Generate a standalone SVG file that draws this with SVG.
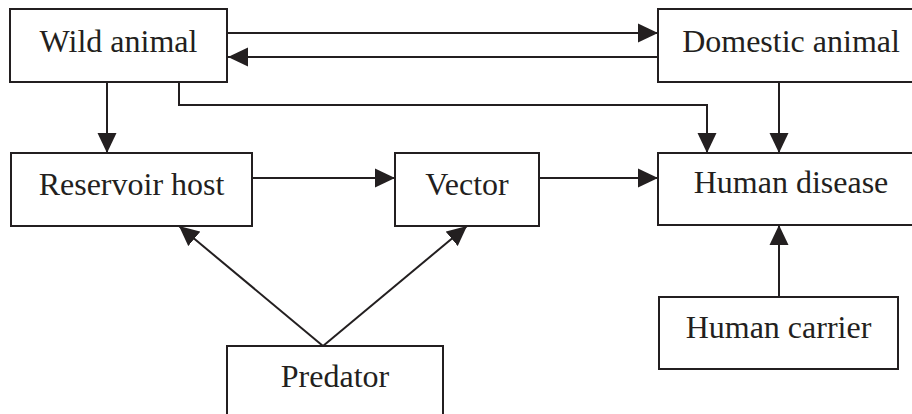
<svg xmlns="http://www.w3.org/2000/svg" width="912" height="414" viewBox="0 0 912 414">
<style>
.box{fill:#fff;stroke:#231f20;stroke-width:2}
.lbl{font-family:"Liberation Serif","Times New Roman",serif;font-size:32px;fill:#231f20;text-anchor:middle}
.c{fill:none;stroke:#231f20;stroke-width:2}
</style>
<defs>
<marker id="ah" markerUnits="userSpaceOnUse" markerWidth="20" markerHeight="20" refX="20" refY="10" orient="auto">
<path d="M0,0.5 L20,10 L0,19.5 Z" fill="#231f20"/>
</marker>
</defs>
<rect width="912" height="414" fill="#fff"/>
<g id="connectors">
<line class="c" x1="228" y1="33" x2="658" y2="33" marker-end="url(#ah)"/>
<line class="c" x1="658" y1="57" x2="228" y2="57" marker-end="url(#ah)"/>
<line class="c" x1="107" y1="82" x2="107" y2="153" marker-end="url(#ah)"/>
<polyline class="c" points="179,82 179,105 707,105 707,153" marker-end="url(#ah)"/>
<line class="c" x1="779" y1="82" x2="779" y2="153" marker-end="url(#ah)"/>
<line class="c" x1="252" y1="178" x2="395" y2="178" marker-end="url(#ah)"/>
<line class="c" x1="539" y1="178" x2="658" y2="178" marker-end="url(#ah)"/>
<line class="c" x1="779" y1="297" x2="779" y2="225" marker-end="url(#ah)"/>
<line class="c" x1="323" y1="346" x2="179" y2="226" marker-end="url(#ah)"/>
<line class="c" x1="323" y1="346" x2="467" y2="226" marker-end="url(#ah)"/>
</g>
<g id="wild-animal">
<rect class="box" x="10" y="9" width="217" height="73"/>
<text class="lbl" x="118.5" y="52">Wild animal</text>
</g>
<g id="domestic-animal">
<rect class="box" x="658" y="9" width="266" height="73"/>
<text class="lbl" x="791" y="52">Domestic animal</text>
</g>
<g id="reservoir-host">
<rect class="box" x="11" y="153" width="241" height="73"/>
<text class="lbl" x="131.5" y="195">Reservoir host</text>
</g>
<g id="vector">
<rect class="box" x="395" y="153" width="144" height="73"/>
<text class="lbl" x="467" y="195">Vector</text>
</g>
<g id="human-disease">
<rect class="box" x="658" y="153" width="266" height="72"/>
<text class="lbl" x="791" y="193">Human disease</text>
</g>
<g id="human-carrier">
<rect class="box" x="659" y="297" width="239" height="72"/>
<text class="lbl" x="778.5" y="338">Human carrier</text>
</g>
<g id="predator">
<rect class="box" x="227" y="346" width="216" height="80"/>
<text class="lbl" x="335" y="387">Predator</text>
</g>
</svg>
